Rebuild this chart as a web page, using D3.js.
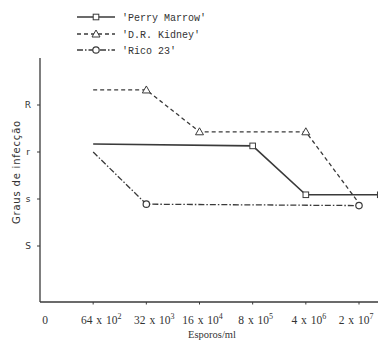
<!DOCTYPE html>
<html>
<head>
<meta charset="utf-8">
<script src="https://cdn.jsdelivr.net/npm/d3@7"></script>
<style>
  body { margin: 0; background: #fff; }
  text { fill: #333; }
</style>
</head>
<body>
<script>
// x positions are category indexes: 0 = origin, 1..6 = spore concentrations
const xLabels = [["0", ""], ["64 x 10", "2"], ["32 x 10", "3"], ["16 x 10", "4"], ["8 x 10", "5"], ["4 x 10", "6"], ["2 x 10", "7"]];
const yLevels = [1, 2, 3, 4];
const yLabels = ["S", "s", "r", "R"];

const perryX = [1, 4, 5, 6.4];
const perryY = [3.17, 3.13, 2.09, 2.09];
const perryMark = [false, true, true, true];

const kidneyX = [1, 2, 3, 5, 6];
const kidneyY = [4.32, 4.32, 3.43, 3.43, 1.91];
const kidneyMark = [false, true, true, true, false];

const ricoX = [1, 2, 6];
const ricoY = [3.0, 1.89, 1.86];
const ricoMark = [false, true, true];

const seriesNames = ["'Perry Marrow'", "'D.R. Kidney'", "'Rico 23'"];

const width = 378, height = 348;
const ink = "#3a3a3a";

const svg = d3.select("body").append("svg")
    .attr("width", width)
    .attr("height", height);

const x = d3.scaleLinear().domain([0, 6]).range([40, 359]);
const y = d3.scaleLinear().domain([1, 4]).range([246, 105]);
const axisY = 302, axisTop = 58;

// axes lines
svg.append("line")
    .attr("x1", 40).attr("x2", 40)
    .attr("y1", axisTop).attr("y2", axisY)
    .attr("stroke", ink).attr("stroke-width", 1.3);
svg.append("line")
    .attr("x1", 40).attr("x2", width)
    .attr("y1", axisY).attr("y2", axisY)
    .attr("stroke", ink).attr("stroke-width", 1.3);

// y ticks
svg.selectAll("line.ytick")
    .data(yLevels)
    .enter().append("line")
    .attr("class", "ytick")
    .attr("x1", 37).attr("x2", 40)
    .attr("y1", d => y(d)).attr("y2", d => y(d))
    .attr("stroke", ink);

svg.selectAll("text.ylab")
    .data(yLevels)
    .enter().append("text")
    .attr("class", "ylab")
    .attr("x", 28)
    .attr("y", d => y(d))
    .attr("dy", "0.35em")
    .attr("text-anchor", "middle")
    .style("font-family", "DejaVu Sans")
    .style("font-size", "9px")
    .text((d, i) => yLabels[i]);

// x ticks
svg.selectAll("line.xtick")
    .data(d3.range(1, 7))
    .enter().append("line")
    .attr("class", "xtick")
    .attr("x1", d => x(d)).attr("x2", d => x(d))
    .attr("y1", axisY).attr("y2", axisY + 2.5)
    .attr("stroke", ink);

// labels sit a little to the right of their ticks in the original, except the last
const labelShift = i => i === 0 ? 5 : i < 3 ? 8 : i < 6 ? 3 : -3;

const xl = svg.selectAll("text.xlab")
    .data(xLabels)
    .enter().append("text")
    .attr("class", "xlab")
    .attr("x", (d, i) => x(i) + labelShift(i))
    .attr("y", 324)
    .attr("text-anchor", "middle")
    .style("font-family", "Liberation Serif")
    .style("font-size", "11.5px")
    .style("word-spacing", "1px");
xl.append("tspan").text(d => d[0]);
xl.append("tspan").attr("dy", -5).style("font-size", "8px").text(d => d[1]);

// titles
svg.append("text")
    .attr("x", 212).attr("y", 338)
    .attr("text-anchor", "middle")
    .style("font-family", "Liberation Serif")
    .style("font-size", "10.5px")
    .text("Esporos/ml");

svg.append("text")
    .attr("transform", "translate(20,172) rotate(-90)")
    .attr("text-anchor", "middle")
    .style("font-family", "DejaVu Sans")
    .style("font-size", "10px")
    .style("letter-spacing", "0.8px")
    .text("Graus de infecção");

// series
const series = [
    { xs: perryX, ys: perryY, marks: perryMark, dash: null, marker: "square" },
    { xs: kidneyX, ys: kidneyY, marks: kidneyMark, dash: "4,3", marker: "triangle" },
    { xs: ricoX, ys: ricoY, marks: ricoMark, dash: "6,2,1.5,2", marker: "circle" }
];

const line = d3.line().x(d => x(d[0])).y(d => y(d[1]));

function drawMarker(g, type, cx, cy) {
    if (type === "square") {
        g.append("rect").attr("x", cx - 2.8).attr("y", cy - 2.8)
            .attr("width", 5.6).attr("height", 5.6)
            .attr("fill", "#fff").attr("stroke", ink).attr("stroke-width", 1);
    } else if (type === "triangle") {
        g.append("path")
            .attr("d", `M${cx},${cy - 4}L${cx + 4},${cy + 3}L${cx - 4},${cy + 3}Z`)
            .attr("fill", "#fff").attr("stroke", ink).attr("stroke-width", 1);
    } else {
        g.append("circle").attr("cx", cx).attr("cy", cy).attr("r", 3.2)
            .attr("fill", "#fff").attr("stroke", ink).attr("stroke-width", 1.2);
    }
}

series.forEach(s => {
    const pts = s.xs.map((v, i) => [v, s.ys[i]]);
    svg.append("path")
        .datum(pts)
        .attr("d", line)
        .attr("fill", "none")
        .attr("stroke", ink)
        .attr("stroke-width", s.dash ? 1.3 : 1.6)
        .attr("stroke-dasharray", s.dash);
    const g = svg.append("g");
    pts.forEach((p, i) => {
        if (s.marks[i]) drawMarker(g, s.marker, x(p[0]), y(p[1]));
    });
});

// legend
const legendY = [17, 34, 50];
series.forEach((s, i) => {
    const ly = legendY[i];
    svg.append("line")
        .attr("x1", 77).attr("x2", 115)
        .attr("y1", ly).attr("y2", ly)
        .attr("stroke", ink)
        .attr("stroke-width", s.dash ? 1.3 : 1.6)
        .attr("stroke-dasharray", s.dash);
    drawMarker(svg, s.marker, 96, ly);
    svg.append("text")
        .attr("x", 122).attr("y", ly)
        .attr("dy", "0.35em")
        .style("font-family", "Liberation Mono")
        .style("font-size", "10px")
        .text(seriesNames[i]);
});
</script>
</body>
</html>
